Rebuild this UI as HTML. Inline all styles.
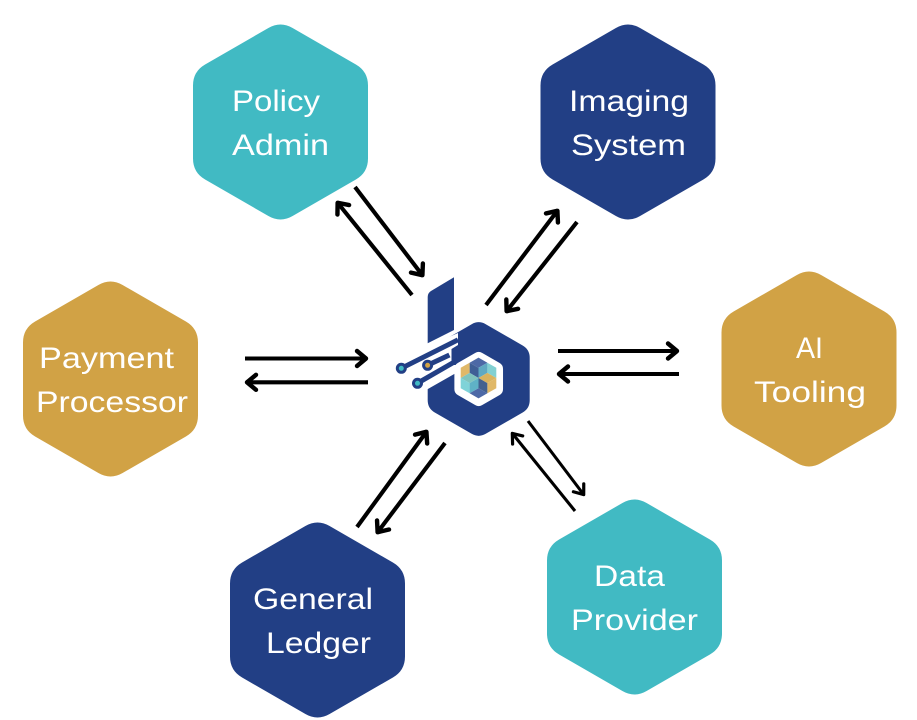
<!DOCTYPE html>
<html><head><meta charset="utf-8"><style>
html,body{margin:0;padding:0;background:#fff;width:917px;height:720px;overflow:hidden}
svg{display:block}
text{font-family:"Liberation Sans",sans-serif;font-size:30px;fill:#fff}
.a{stroke:#000;stroke-width:4.1;fill:none;marker-end:url(#m)}
.b{stroke:#000;stroke-width:3.1;fill:none;marker-end:url(#m2)}
</style></head><body>
<svg width="917" height="720" viewBox="0 0 917 720" xmlns="http://www.w3.org/2000/svg">
<defs>
<path id="h" d="M-12.1,-94Q0,-101 12.1,-94L75.4,-57.5Q87.5,-50.5 87.5,-36.5L87.5,36.5Q87.5,50.5 75.4,57.5L12.1,94Q0,101 -12.1,94L-75.4,57.5Q-87.5,50.5 -87.5,36.5L-87.5,-36.5Q-87.5,-50.5 -75.4,-57.5Z"/>
<marker id="m" markerUnits="userSpaceOnUse" markerWidth="30" markerHeight="30" refX="15" refY="15" orient="auto" overflow="visible">
<path d="M5,7.5L14,15L5,22.5" fill="none" stroke="#000" stroke-width="4.4" stroke-linecap="round" stroke-linejoin="round"/>
</marker>
<marker id="m2" markerUnits="userSpaceOnUse" markerWidth="30" markerHeight="30" refX="15" refY="15" orient="auto" overflow="visible">
<path d="M6,8.5L14.5,15L6,21.5" fill="none" stroke="#000" stroke-width="3.2" stroke-linecap="round" stroke-linejoin="round"/>
</marker>
</defs>

<use href="#h" x="280.5" y="122" fill="#41BAC3"/>
<use href="#h" x="628" y="122" fill="#223F85"/>
<use href="#h" x="110.5" y="379" fill="#D1A245"/>
<use href="#h" x="809" y="369" fill="#D1A245"/>
<use href="#h" x="317.5" y="620" fill="#223F85"/>
<use href="#h" x="634.5" y="597" fill="#41BAC3"/>

<text x="232" y="111" textLength="88" lengthAdjust="spacingAndGlyphs">Policy</text>
<text x="232" y="155" textLength="97" lengthAdjust="spacingAndGlyphs">Admin</text>
<text x="569" y="111" textLength="120" lengthAdjust="spacingAndGlyphs">Imaging</text>
<text x="571" y="155" textLength="115" lengthAdjust="spacingAndGlyphs">System</text>
<text x="39" y="368" textLength="135" lengthAdjust="spacingAndGlyphs">Payment</text>
<text x="36" y="412" textLength="152" lengthAdjust="spacingAndGlyphs">Processor</text>
<text x="796" y="358" textLength="27" lengthAdjust="spacingAndGlyphs">AI</text>
<text x="754" y="402" textLength="112" lengthAdjust="spacingAndGlyphs">Tooling</text>
<text x="253" y="609" textLength="120" lengthAdjust="spacingAndGlyphs">General</text>
<text x="266" y="653" textLength="105" lengthAdjust="spacingAndGlyphs">Ledger</text>
<text x="594" y="586" textLength="71" lengthAdjust="spacingAndGlyphs">Data</text>
<text x="571" y="630" textLength="127" lengthAdjust="spacingAndGlyphs">Provider</text>

<path class="a" d="M355,187L423,276"/>
<path class="a" d="M412,295L337,202"/>
<path class="a" d="M486,305L558,210"/>
<path class="a" d="M577,222L506,312"/>
<path class="a" d="M245,358.5L367,358.5"/>
<path class="a" d="M368,382.3L246,382.3"/>
<path class="a" d="M558,351L678,351"/>
<path class="a" d="M679,374L558,374"/>
<path class="a" d="M357,527L427,431"/>
<path class="a" d="M445,443L377,533"/>
<path class="b" d="M528,421L584,495"/>
<path class="b" d="M575,511L512,433"/>

<!-- logo -->
<use href="#h" transform="translate(478.7 379) scale(.583)" fill="#223F85"/>
<polygon points="458,333 458,345 451.5,349 451.5,365 456,365 456,373 427,389.5 420,389.5 420,350" fill="#fff"/>
<path d="M454,277.3V330L427.7,343.3V297Q427.7,293 431,291Z" fill="#223F85"/>
<path d="M401.3,368.3L458,339.8" stroke="#223F85" stroke-width="5" fill="none"/>
<path d="M427.5,365.3L449.4,355" stroke="#223F85" stroke-width="5" fill="none"/>
<path d="M417.3,383.3L456,361" stroke="#223F85" stroke-width="5" fill="none"/>
<circle cx="401.3" cy="368.3" r="4" fill="#41BAC3" stroke="#223F85" stroke-width="3"/>
<circle cx="427.6" cy="365.3" r="4" fill="#D1A245" stroke="#223F85" stroke-width="3"/>
<circle cx="417.5" cy="383.3" r="4" fill="#41BAC3" stroke="#223F85" stroke-width="3"/>
<use href="#h" transform="translate(478.7 379) scale(.278)" fill="#fff"/>
<g transform="translate(478.5 378)">
<polygon points="0,-20.4 8.9,-15.3 0,-10.2 -8.9,-15.3" fill="#4D69A6"/>
<polygon points="-8.9,-15.3 0,-10.2 0,0 -8.9,-5.1" fill="#3F5F96"/>
<polygon points="0,-10.2 8.9,-15.3 8.9,-5.1 0,0" fill="#5FA9C2"/>
<polygon points="-17.8,-10.2 -8.9,-15.3 -8.9,-5.1 -17.8,0" fill="#E0B868"/>
<polygon points="8.9,-15.3 17.8,-10.2 17.8,0 8.9,-5.1" fill="#82D0D2"/>
<polygon points="-8.9,-5.1 0,0 -8.9,5.1 -17.8,0" fill="#7FC4BE"/>
<polygon points="-17.8,0 -8.9,5.1 -8.9,15.3 -17.8,10.2" fill="#7FD3D8"/>
<polygon points="-8.9,5.1 0,0 0,10.2 -8.9,15.3" fill="#5FB2C6"/>
<polygon points="0,0 8.9,-5.1 17.8,0 8.9,5.1" fill="#D9B35E"/>
<polygon points="0,0 8.9,5.1 8.9,15.3 0,10.2" fill="#43618F"/>
<polygon points="8.9,5.1 17.8,0 17.8,10.2 8.9,15.3" fill="#E0B868"/>
<polygon points="-8.9,15.3 0,10.2 8.9,15.3 0,20.4" fill="#4D69A6"/>
</g>
</svg>
</body></html>
